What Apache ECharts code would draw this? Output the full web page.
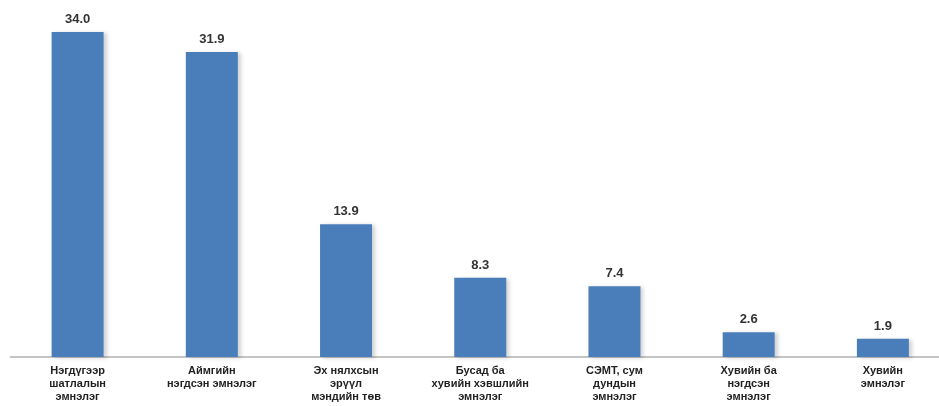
<!DOCTYPE html>
<html><head><meta charset="utf-8">
<script src="https://cdn.jsdelivr.net/npm/echarts@6/dist/echarts.min.js"></script>
<style>html,body{margin:0;padding:0;background:#fff;overflow:hidden;width:939px;height:406px}#c{width:950px;height:406px}</style>
</head><body><div id="c"></div>
<script>
const categories = [
  "Нэгдүгээр\nшатлалын\nэмнэлэг",
  "Аймгийн\nнэгдсэн эмнэлэг",
  "Эх нялхсын\nэрүүл\nмэндийн төв",
  "Бусад ба\nхувийн хэвшлийн\nэмнэлэг",
  "СЭМТ, сум\nдундын\nэмнэлэг",
  "Хувийн ба\nнэгдсэн\nэмнэлэг",
  "Хувийн\nэмнэлэг"
];
const values = [34.0, 31.9, 13.9, 8.3, 7.4, 2.6, 1.9];

const chart = echarts.init(document.getElementById('c'));
chart.setOption({
  animation: false,
  grid: { left: 10.5, top: 32, bottom: 49, right: 0 },
  xAxis: {
    type: 'category', data: categories,
    axisLine: { lineStyle: { color: '#c4c4c4', width: 2 } },
    axisTick: { show: false },
    axisLabel: { interval: 0, fontSize: 11, fontWeight: 'bold', color: '#222', lineHeight: 13, margin: 7, fontFamily: 'Liberation Sans' }
  },
  yAxis: { type: 'value', min: 0, max: 34, show: false, splitLine: { show: false } },
  series: [{
    type: 'bar', data: values, barWidth: 52,
    itemStyle: { color: '#4a7ebb', shadowColor: 'rgba(0,0,0,0.18)', shadowBlur: 4, shadowOffsetX: 3, shadowOffsetY: 1 },
    label: { show: true, position: 'top', distance: 6, fontSize: 13, fontWeight: 'bold', color: '#333', fontFamily: 'Liberation Sans', formatter: p => p.value.toFixed(1) }
  }]
});
</script></body></html>
